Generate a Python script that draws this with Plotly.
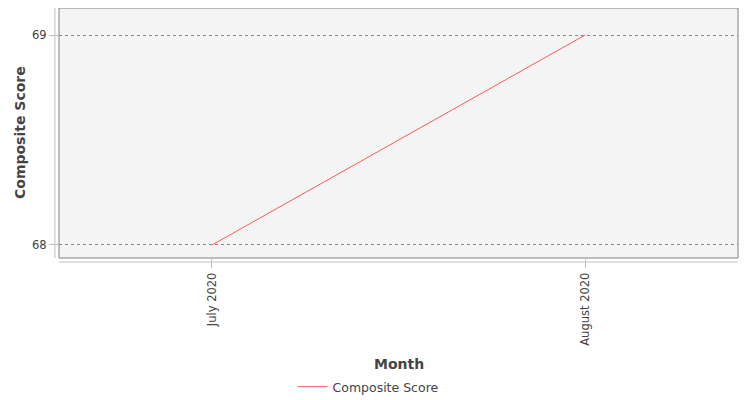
import plotly.graph_objects as go

months = ["July 2020", "August 2020"]
scores = [68, 69]
y_ticks = [68, 69]

font_family = "DejaVu Sans"
text_color = "#444444"

fig = go.Figure()
fig.add_trace(go.Scatter(
    x=months,
    y=scores,
    mode="lines",
    name="Composite Score",
    line=dict(color="#ff5a5a", width=1)
))

# page body adds an 8px offset, so the figure is sized to fit the window
fig.update_layout(
    width=742,
    height=392,
    margin=dict(l=51, r=12, t=0, b=142, autoexpand=False),
    paper_bgcolor="white",
    plot_bgcolor="#f4f4f4",
    font=dict(family=font_family, size=12, color=text_color),
    showlegend=True,
    legend=dict(
        orientation="h",
        x=0.5 - 30 / 679, xanchor="center",
        y=(258 - 387) / 250, yanchor="middle",
        font=dict(size=12.5, color=text_color),
        itemwidth=30
    ),
    xaxis=dict(
        type="category",
        range=[-0.41, 1.41],
        tickangle=-90,
        ticks="outside",
        ticklen=9,
        tickcolor="#c0c0c0",
        showgrid=False,
        zeroline=False,
        showline=False,
        automargin=False,
        tickfont=dict(size=11.5, color=text_color)
    ),
    yaxis=dict(
        range=[67.938, 69.129],
        tickvals=y_ticks,
        ticktext=[str(v) for v in y_ticks],
        ticks="outside",
        ticklen=9,
        tickcolor="#c0c0c0",
        showgrid=True,
        gridcolor="#888888",
        griddash="dot",
        gridwidth=1,
        zeroline=False,
        showline=False,
        automargin=False,
        tickfont=dict(size=11.5, color=text_color)
    ),
    shapes=[
        # plot border
        dict(type="rect", xref="paper", yref="paper", x0=0, x1=1, y0=0, y1=1,
             line=dict(color="#808080", width=1)),
        # offset axis lines
        dict(type="line", xref="paper", yref="paper", x0=-0.006, x1=-0.006, y0=0, y1=1,
             line=dict(color="#c0c0c0", width=1)),
        dict(type="line", xref="paper", yref="paper", x0=0, x1=1, y0=-0.016, y1=-0.016,
             line=dict(color="#c0c0c0", width=1)),
    ],
    annotations=[
        dict(text="<b>Composite Score</b>", xref="paper", yref="paper",
             x=(20 - 59) / 679, y=0.5, textangle=-90, showarrow=False,
             xanchor="center", yanchor="middle",
             font=dict(size=14, color=text_color)),
        dict(text="<b>Month</b>", xref="paper", yref="paper",
             x=0.5, y=(258 - 364) / 250, showarrow=False,
             xanchor="center", yanchor="middle",
             font=dict(size=14, color=text_color)),
    ]
)

fig.write_html("out.html")
